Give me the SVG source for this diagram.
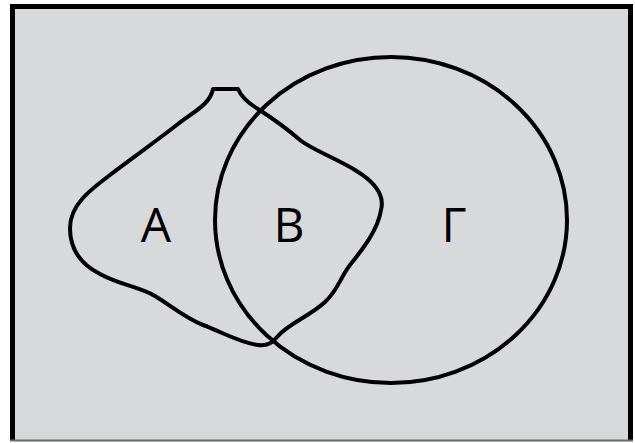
<svg xmlns="http://www.w3.org/2000/svg" width="635" height="443" viewBox="0 0 635 443">
<style>
.line{fill:none;stroke:#000;stroke-width:4;stroke-linejoin:round;stroke-linecap:round}
.lbl{font-family:"Open Sans","Liberation Sans",sans-serif;font-size:48px;fill:#000;text-anchor:middle}
</style>
<rect x="0" y="0" width="635" height="443" fill="#ffffff"/>
<g id="frame">
<rect x="10" y="4" width="623" height="437" fill="#d8d9db"/>
<path d="M12.5,441 V6.5 H630.5 V441" fill="none" stroke="#000" stroke-width="5"/>
<line x1="10" y1="440.5" x2="633" y2="440.5" stroke="#6a6a6a" stroke-width="2"/>
</g>
<g id="set-A">
<path class="line" d="M213,89 L238,89 C241,96 248,103 258,109 C272,118 285,127 300,140 C313,150 335,158 355,170 C375,182 385,195 381,210 C378,230 362,250 350,265 C340,278 338,290 325,302 C310,316 288,324 278,336 C272,343 268,346 258,345 C240,343 222,332 203,325 C185,318 170,305 155,296 C140,287 120,285 100,274 C80,264 70,248 70,228 C70,205 90,190 110,175 C130,160 160,138 178,124 C195,111 210,104 213,89 Z"/>
</g>
<g id="set-G">
<ellipse class="line" cx="391" cy="220" rx="176" ry="163"/>
</g>
<g id="labels">
<text class="lbl" x="156" y="242">A</text>
<text class="lbl" x="289" y="242">B</text>
<text class="lbl" x="454" y="242">Γ</text>
</g>
</svg>
